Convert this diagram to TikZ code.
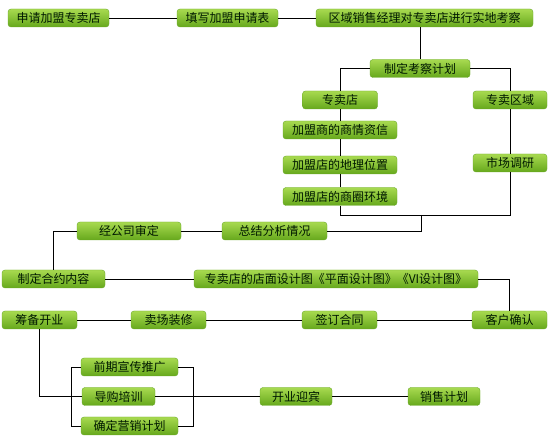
\documentclass[tikz,border=0pt]{standalone}
\usepackage{fontspec}
\setmainfont{Noto Sans CJK SC}
\begin{document}
\begin{tikzpicture}[x=1pt,y=-1pt,
  box/.style={draw=boxedge, rounded corners=3pt, top color=boxtop, bottom color=boxbot,
    minimum height=18pt, inner sep=0pt, font=\fontsize{12}{12}\selectfont, text=black!90!green},
  conn/.style={draw=black, line width=0.8pt}]
\definecolor{boxtop}{HTML}{A8DA50}
\definecolor{boxbot}{HTML}{66A81C}
\definecolor{boxedge}{HTML}{6AA82A}
\useasboundingbox (0,0) rectangle (550,446);
% nodes
\node[box, minimum width=101pt] (n1) at (58.5,18) {申请加盟专卖店};
\node[box, minimum width=101pt] (n2) at (227.5,18) {填写加盟申请表};
\node[box, minimum width=217pt] (n3) at (424.5,18) {区域销售经理对专卖店进行实地考察};
\node[box, minimum width=100pt] (n4) at (420,68.5) {制定考察计划};
\node[box, minimum width=75pt] (n5) at (340,100) {专卖店};
\node[box, minimum width=74pt] (n6) at (510,100) {专卖区域};
\node[box, minimum width=114pt] (n7) at (340,130) {加盟商的商情资信};
\node[box, minimum width=114pt] (n8) at (340,165) {加盟店的地理位置};
\node[box, minimum width=114pt] (n9) at (340,196.5) {加盟店的商圈环境};
\node[box, minimum width=74pt] (n10) at (510,163) {市场调研};
\node[box, minimum width=105pt] (n11) at (274.5,231) {总结分析情况};
\node[box, minimum width=104pt] (n12) at (129,231) {经公司审定};
\node[box, minimum width=103pt] (n13) at (53.5,279) {制定合约内容};
\node[box, minimum width=284pt] (n14) at (336,279) {专卖店的店面设计图《平面设计图》《VI设计图》};
\node[box, minimum width=75pt] (n15) at (509.5,320) {客户确认};
\node[box, minimum width=75pt] (n16) at (339.5,320) {签订合同};
\node[box, minimum width=75pt] (n17) at (168.5,320) {卖场装修};
\node[box, minimum width=75pt] (n18) at (39.5,320) {筹备开业};
\node[box, minimum width=97pt] (n19) at (129.5,367) {前期宣传推广};
\node[box, minimum width=73pt] (n20) at (118.5,396.5) {导购培训};
\node[box, minimum width=97pt] (n21) at (129.5,426) {确定营销计划};
\node[box, minimum width=72pt] (n22) at (296,396.5) {开业迎宾};
\node[box, minimum width=72pt] (n23) at (444,396.5) {销售计划};
\coordinate (j2) at (510,215);
\coordinate (jm) at (421,215);
\coordinate (bl) at (71,367);
\coordinate (br) at (193,367);
% connectors
\draw[conn] (n1) -- (n2);
\draw[conn] (n2) -- (n3);
\draw[conn] (n3.south -| n4.north) -- (n4.north);
\draw[conn] (n4.west) -| (n5.north);
\draw[conn] (n4.east) -| (n6.north);
\draw[conn] (n5.south) -- (n7.north);
\draw[conn] (n7.south) -- (n8.north);
\draw[conn] (n8.south) -- (n9.north);
\draw[conn] (n6.south) -- (n10.north);
\draw[conn] (n9.south) |- (j2) -- (n10.south);
\draw[conn] (jm) |- (n11.east);
\draw[conn] (n12) -- (n11);
\draw[conn] (n12.west) -| (n13.north);
\draw[conn] (n13) -- (n14);
\draw[conn] (n14.east) -| (n15.north);
\draw[conn] (n15) -- (n16);
\draw[conn] (n16) -- (n17);
\draw[conn] (n17) -- (n18);
\draw[conn] (n18.south) |- (n20.west);
\draw[conn] (n19.west) -- (bl) |- (n21.west);
\draw[conn] (n19.east) -- (br) |- (n21.east);
\draw[conn] (n20.east) -- (n22.west);
\draw[conn] (n22) -- (n23);
\end{tikzpicture}
\end{document}
